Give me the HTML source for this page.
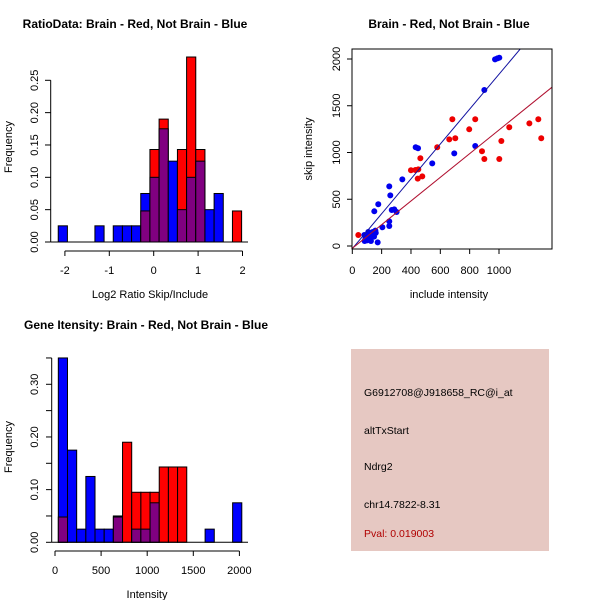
<!DOCTYPE html>
<html><head><meta charset="utf-8"><style>
body{margin:0;background:#fff;}
svg text{font-family:"Liberation Sans",sans-serif;font-size:11px;fill:#000;}
svg text.t{font-weight:bold;font-size:12px;}
svg text.i{font-size:10.5px;}
</style></head><body>
<svg id="c" width="600" height="600" viewBox="0 0 600 600"></svg>
<script>
// ---------- data ----------
const ratioBlue=[0.025,0,0,0,0.025,0,0.025,0.025,0.025,0.075,0.10,0.175,0.125,0.05,0.10,0.125,0.05,0.075,0,0];
const ratioRed=[0,0,0,0,0,0,0,0,0,0.048,0.143,0.19,0,0.143,0.286,0.143,0,0,0,0.048];
const ratioStart=-2.15, ratioWidth=0.2065;
const ratioXTicks=[-2,-1,0,1,2];
const ratioYTicks=[0,0.05,0.10,0.15,0.20,0.25];
const intBlue=[0.35,0.175,0.025,0.125,0.025,0.025,0.05,0,0.025,0.025,0.075,0,0,0,0,0,0.025,0,0,0.075];
const intRed=[0.048,0,0,0,0,0,0.048,0.19,0.095,0.095,0.095,0.143,0.143,0.143,0,0,0,0,0,0];
const intStart=36, intWidth=99.5;
const intXTicks=[0,500,1000,1500,2000];
const intYTicks=[0,0.05,0.10,0.15,0.20,0.25,0.30,0.35];
const intYLabels=[0,0.10,0.20,0.30];
const blueX=[973,989,1002,900,838,695,545,432,448,341,252,259,177,150,269,286,302,252,252,205,82,109,139,157,93,123,148,84,127,173,109,134,100,118,160,90];
const blueY=[1996,2007,2014,1668,1070,991,884,1056,1045,713,638,542,446,371,385,392,364,264,214,200,118,150,150,164,100,100,100,53,53,39,82,118,60,130,140,75];
const redX=[41,400,430,450,464,446,477,579,682,661,702,797,838,1070,1207,1268,1288,1016,884,900,1002];
const redY=[118,810,813,820,938,720,745,1056,1355,1141,1152,1248,1355,1270,1312,1355,1152,1123,1013,930,930];
const blueFit=[-28,1.865], redFit=[-25,1.266];
const scXTicks=[0,200,400,600,800,1000];
const scYTicks=[0,500,1000,1500,2000];

const svg=document.getElementById('c');
const NS='http://www.w3.org/2000/svg';
function mk(tag,at,parent){const e=document.createElementNS(NS,tag);for(const k in at)e.setAttribute(k,at[k]);(parent||svg).appendChild(e);return e;}
function txt(x,y,s,cls,rot,anchor,fill){const e=mk('text',{x:x,y:y,'text-anchor':anchor||'middle'});if(cls)e.setAttribute('class',cls);if(rot)e.setAttribute('transform','rotate(-90 '+x+' '+y+')');if(fill)e.setAttribute('fill',fill),e.style.fill=fill;e.textContent=s;return e;}

function hist(blue,red,start,width,xs,ys,gname){
  const g=mk('g',{});
  
  
  for(let i=0;i<blue.length;i++){
    const b=blue[i],r=red[i],x0=xs(start+i*width),x1=xs(start+(i+1)*width);
    const lo=Math.min(b,r),hi=Math.max(b,r);
    if(hi>0){
      const col=b>=r?'#0000ff':'#ff0000';
      const rc=mk('rect',{x:x0,y:ys(hi),width:x1-x0,height:ys(0)-ys(hi),fill:col,stroke:'#000','stroke-width':1},g);
      
      
    }
    if(lo>0){
      const rp=mk('rect',{x:x0,y:ys(lo),width:x1-x0,height:ys(0)-ys(lo),fill:'#800080',stroke:'#000','stroke-width':1},g);
      
      
    }
  }
}

// ---- Panel 1: ratio histogram ----
const x1=v=>153.7+44.4*v, y1=v=>242-646.8*v;
txt(135,28,'RatioData: Brain - Red, Not Brain - Blue','t');
hist(ratioBlue,ratioRed,ratioStart,ratioWidth,x1,y1,'ratio-histogram');
mk('line',{x1:50.7,y1:242,x2:248,y2:242,stroke:'#000'});
mk('line',{x1:50.7,y1:y1(0),x2:50.7,y2:y1(0.25),stroke:'#000'});
ratioYTicks.forEach(t=>{mk('line',{x1:45,y1:y1(t),x2:50.7,y2:y1(t),stroke:'#000'});txt(38,y1(t),t.toFixed(2),'',true);});
mk('line',{x1:x1(-2),y1:251,x2:x1(2),y2:251,stroke:'#000'});
ratioXTicks.forEach(t=>{mk('line',{x1:x1(t),y1:251,x2:x1(t),y2:256,stroke:'#000'});txt(x1(t),274,String(t));});
txt(150,298,'Log2 Ratio Skip/Include');
txt(12,147,'Frequency','',true);

// ---- Panel 2: scatter ----
const x2=v=>352.3+0.1467*v, y2=v=>246-0.0935*v;
txt(449,28,'Brain - Red, Not Brain - Blue','t');
const sg=mk('g',{});


const cp=mk('clipPath',{id:'cp'});
mk('rect',{x:352,y:49,width:200,height:200},cp);
blueX.forEach((v,i)=>{const c=mk('circle',{cx:x2(v),cy:y2(blueY[i]),r:3,fill:'#0000ee'},sg);});
redX.forEach((v,i)=>{const c=mk('circle',{cx:x2(v),cy:y2(redY[i]),r:3,fill:'#ee0000'},sg);});
[[blueFit,'#1010a0','blue-fit-line'],[redFit,'#b01030','red-fit-line']].forEach(([f,col,n])=>{
  const l=mk('line',{x1:x2(-10),y1:y2(f[0]+f[1]*-10),x2:x2(1400),y2:y2(f[0]+f[1]*1400),stroke:col,'stroke-width':1,'clip-path':'url(#cp)'},sg);
  
});
mk('rect',{x:352,y:49,width:200,height:200,fill:'none',stroke:'#000'});
scXTicks.forEach(t=>{mk('line',{x1:x2(t),y1:249,x2:x2(t),y2:254,stroke:'#000'});txt(x2(t),274,String(t));});
scYTicks.forEach(t=>{mk('line',{x1:347,y1:y2(t),x2:352,y2:y2(t),stroke:'#000'});txt(340,y2(t),String(t),'',true);});
txt(449,298,'include intensity');
txt(312,149,'skip intensity','',true);

// ---- Panel 3: intensity histogram ----
const x3=v=>55+0.0922*v, y3=v=>542.3-526.7*v;
txt(146,329,'Gene Itensity: Brain - Red, Not Brain - Blue','t');
hist(intBlue,intRed,intStart,intWidth,x3,y3,'intensity-histogram');
mk('line',{x1:51.7,y1:542.3,x2:248,y2:542.3,stroke:'#000'});
mk('line',{x1:51.7,y1:y3(0),x2:51.7,y2:y3(0.35),stroke:'#000'});
intYTicks.forEach(t=>mk('line',{x1:46,y1:y3(t),x2:51.7,y2:y3(t),stroke:'#000'}));
intYLabels.forEach(t=>txt(38,y3(t),t.toFixed(2),'',true));
mk('line',{x1:x3(0),y1:551,x2:x3(2000),y2:551,stroke:'#000'});
intXTicks.forEach(t=>{mk('line',{x1:x3(t),y1:551,x2:x3(t),y2:556,stroke:'#000'});txt(x3(t),574,String(t));});
txt(147,598,'Intensity');
txt(12,447,'Frequency','',true);

// ---- Panel 4: info box ----
const box=mk('rect',{x:351,y:349,width:198,height:202,fill:'#e6c8c2'});

const info=[['G6912708@J918658_RC@i_at',396,'probe-id'],['altTxStart',434,'event-type'],['Ndrg2',470,'gene-name'],['chr14.7822-8.31',508,'chromosome-location']];
info.forEach(([s,y,n])=>{const e=txt(364,y,s,'i',false,'start');});
const pv=txt(364,537,'Pval: 0.019003','i',false,'start','#b00000');

</script>
</body></html>
